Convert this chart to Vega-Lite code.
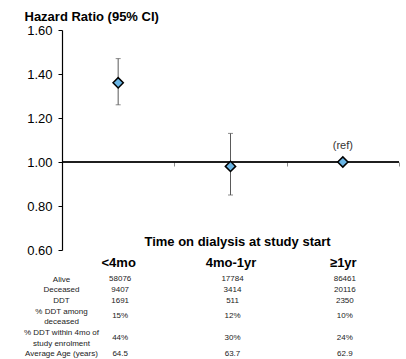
{
  "$schema": "https://vega.github.io/schema/vega-lite/v6.json",
  "padding": {"left": 23, "top": 10, "right": 5, "bottom": 0},
  "background": "white",
  "config": {"font": "Liberation Sans", "view": {"stroke": null}},
  "datasets": {
    "hr": [
      {"group": "<4mo", "hr": 1.36, "lo": 1.26, "hi": 1.47, "note": ""},
      {"group": "4mo-1yr", "hr": 0.98, "lo": 0.85, "hi": 1.13, "note": ""},
      {"group": "≥1yr", "hr": 1.0, "lo": null, "hi": null, "note": "(ref)"}
    ],
    "table": [
      {"line": "Alive", "lines": 1, "group": "<4mo", "value": "58076"},
      {"line": "Alive", "lines": 1, "group": "4mo-1yr", "value": "17784"},
      {"line": "Alive", "lines": 1, "group": "≥1yr", "value": "86461"},
      {"line": "Deceased", "lines": 1, "group": "<4mo", "value": "9407"},
      {"line": "Deceased", "lines": 1, "group": "4mo-1yr", "value": "3414"},
      {"line": "Deceased", "lines": 1, "group": "≥1yr", "value": "20116"},
      {"line": "DDT", "lines": 1, "group": "<4mo", "value": "1691"},
      {"line": "DDT", "lines": 1, "group": "4mo-1yr", "value": "511"},
      {"line": "DDT", "lines": 1, "group": "≥1yr", "value": "2350"},
      {"line": "% DDT among", "lines": 2, "group": "<4mo", "value": "15%"},
      {"line": "% DDT among", "lines": 2, "group": "4mo-1yr", "value": "12%"},
      {"line": "% DDT among", "lines": 2, "group": "≥1yr", "value": "10%"},
      {"line": "% DDT within 4mo of", "lines": 2, "group": "<4mo", "value": "44%"},
      {"line": "% DDT within 4mo of", "lines": 2, "group": "4mo-1yr", "value": "30%"},
      {"line": "% DDT within 4mo of", "lines": 2, "group": "≥1yr", "value": "24%"},
      {"line": "Average Age (years)", "lines": 1, "group": "<4mo", "value": "64.5"},
      {"line": "Average Age (years)", "lines": 1, "group": "4mo-1yr", "value": "63.7"},
      {"line": "Average Age (years)", "lines": 1, "group": "≥1yr", "value": "62.9"}
    ]
  },
  "vconcat": [
    {
      "width": 337,
      "height": 220,
      "data": {"name": "hr"},
      "encoding": {
        "x": {
          "field": "group",
          "type": "nominal",
          "sort": ["<4mo", "4mo-1yr", "≥1yr"],
          "scale": {"paddingInner": 0, "paddingOuter": 0},
          "axis": {
            "orient": "bottom",
            "offset": -88,
            "labels": false,
            "domain": false,
            "ticks": true,
            "tickBand": "extent",
            "tickSize": 4,
            "tickColor": "#8c8c8c",
            "title": null
          }
        }
      },
      "layer": [
        {
          "mark": {"type": "rule", "color": "black", "strokeWidth": 1.2},
          "encoding": {"x": null, "y": {"datum": 1.0, "type": "quantitative"}}
        },
        {
          "mark": {"type": "rule", "color": "#5a5a5a", "strokeWidth": 1},
          "encoding": {
            "y": {
              "field": "lo",
              "type": "quantitative",
              "scale": {"domain": [0.6, 1.6], "nice": false, "zero": false},
              "axis": {
                "values": [0.6, 0.8, 1.0, 1.2, 1.4, 1.6],
                "format": ".2f",
                "grid": false,
                "domainColor": "black",
                "domainWidth": 1.2,
                "tickColor": "black",
                "tickSize": 4,
                "labelFontSize": 13,
                "labelColor": "black",
                "labelPadding": 6,
                "title": "Hazard Ratio (95% CI)",
                "titleFontSize": 13,
                "titleFontWeight": "bold",
                "titleColor": "black",
                "titleAngle": 0,
                "titleAlign": "left",
                "titleBaseline": "alphabetic",
                "titleX": -38,
                "titleY": -9.5
              }
            },
            "y2": {"field": "hi"}
          }
        },
        {
          "mark": {"type": "tick", "orient": "horizontal", "size": 5, "thickness": 1, "color": "#5a5a5a"},
          "encoding": {"y": {"field": "lo", "type": "quantitative"}}
        },
        {
          "mark": {"type": "tick", "orient": "horizontal", "size": 5, "thickness": 1, "color": "#5a5a5a"},
          "encoding": {"y": {"field": "hi", "type": "quantitative"}}
        },
        {
          "mark": {"type": "point", "shape": "diamond", "filled": true, "fill": "#6ab5e5", "stroke": "black", "strokeWidth": 1.5, "size": 105, "opacity": 1},
          "encoding": {"y": {"field": "hr", "type": "quantitative"}}
        },
        {
          "transform": [{"filter": "datum.note != ''"}],
          "mark": {"type": "text", "fontSize": 11, "color": "#333333", "dy": -16},
          "encoding": {
            "y": {"field": "hr", "type": "quantitative"},
            "text": {"field": "note"}
          }
        }
      ]
    },
    {
      "width": 337,
      "height": 85,
      "data": {"name": "table"},
      "encoding": {
        "x": {
          "field": "group",
          "type": "nominal",
          "sort": ["<4mo", "4mo-1yr", "≥1yr"],
          "scale": {"paddingInner": 0, "paddingOuter": 0},
          "axis": {
            "orient": "top",
            "domain": false,
            "ticks": false,
            "labelAngle": 0,
            "labelFontSize": 13,
            "labelFontWeight": "bold",
            "labelColor": "black",
            "labelBaseline": "alphabetic",
            "labelPadding": 7.5,
            "title": "Time on dialysis at study start",
            "titleFontSize": 13,
            "titleFontWeight": "bold",
            "titleColor": "black",
            "titleBaseline": "alphabetic",
            "titleX": 175,
            "titleY": -28.5
          }
        },
        "y": {
          "field": "line",
          "type": "nominal",
          "scale": {
            "type": "point",
            "padding": 0.5,
            "domain": ["Alive", "Deceased", "DDT", "% DDT among", "deceased", "% DDT within 4mo of", "study enrolment", "Average Age (years)"]
          },
          "axis": {
            "domain": false,
            "ticks": false,
            "grid": false,
            "labelAlign": "center",
            "labelPadding": 1,
            "labelFontSize": 8,
            "labelColor": "#222222",
            "title": null
          }
        }
      },
      "layer": [
        {
          "transform": [{"filter": "datum.lines == 1"}],
          "mark": {"type": "text", "fontSize": 8, "color": "#222222", "dx": 2},
          "encoding": {"text": {"field": "value"}}
        },
        {
          "transform": [{"filter": "datum.lines == 2"}],
          "mark": {"type": "text", "fontSize": 8, "color": "#222222", "dx": 2, "dy": 5.3},
          "encoding": {"text": {"field": "value"}}
        }
      ]
    }
  ],
  "spacing": 24,
  "bounds": "flush"
}
